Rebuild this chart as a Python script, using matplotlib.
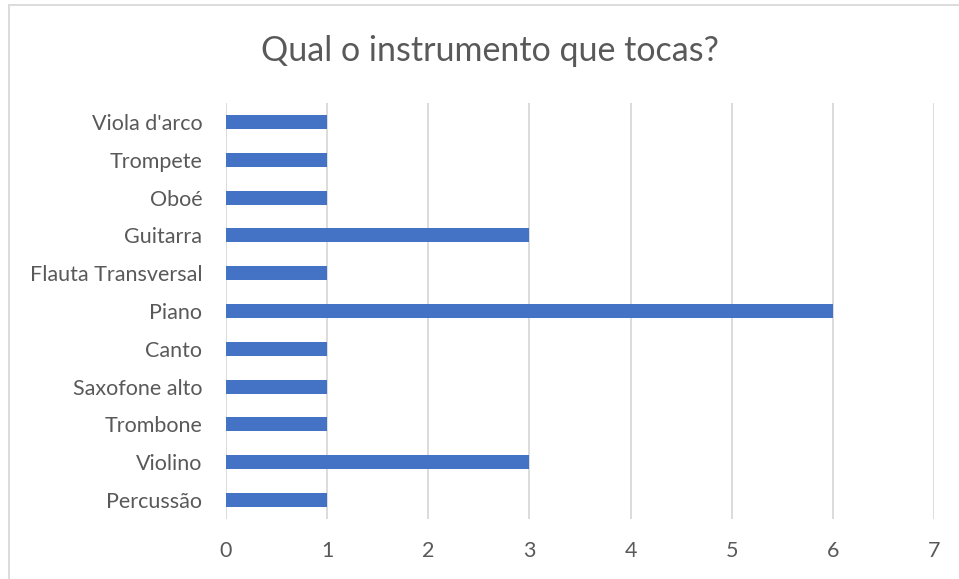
import matplotlib
matplotlib.use("Agg")
import matplotlib.pyplot as plt
from matplotlib.lines import Line2D

instrumentos = ["Percussão", "Violino", "Trombone", "Saxofone alto", "Canto", "Piano",
                "Flauta Transversal", "Guitarra", "Oboé", "Trompete", "Viola d'arco"]
contagens = [1, 3, 1, 1, 1, 6, 1, 3, 1, 1, 1]
x_ticks = [0, 1, 2, 3, 4, 5, 6, 7]
titulo = "Qual o instrumento que tocas?"

W, H = 959, 579
fig = plt.figure(figsize=(W / 100, H / 100), dpi=100)
plt.rcParams['font.family'] = ['Lato', 'DejaVu Sans']

# plot area in pixel coordinates
x0, x1 = 226, 934
y_top, y_bot = 103, 519
ax = fig.add_axes([x0 / W, 1 - y_bot / H, (x1 - x0) / W, (y_bot - y_top) / H])

ypos = list(range(len(instrumentos)))
ax.barh(ypos, contagens, height=0.37, color="#4472C4", zorder=3)

ax.set_xlim(0, 7)
ax.set_ylim(-0.5, len(instrumentos) - 0.5)
ax.set_xticks(x_ticks)
ax.set_xticklabels([str(t) for t in x_ticks])
ax.set_yticks(ypos)
ax.set_yticklabels(instrumentos)
ax.tick_params(axis="both", length=0, labelsize=15.5, colors="#595959")
ax.tick_params(axis="x", pad=16)
ax.tick_params(axis="y", pad=17)
ax.grid(axis="x", color="#d9d9d9", linewidth=1.3, zorder=0)
for s in ax.spines.values():
    s.set_visible(False)

fig.text(490 / W, 1 - 51 / H, titulo, ha="center", va="center",
         fontsize=24.5, color="#595959")

# chart frame (left and top edges)
fig.add_artist(Line2D([8.5 / W, 8.5 / W], [0, 1 - 4.5 / H], color="#d9d9d9",
                      linewidth=1.3, transform=fig.transFigure))
fig.add_artist(Line2D([8.5 / W, 958 / W], [1 - 4.5 / H, 1 - 4.5 / H], color="#d9d9d9",
                      linewidth=1.3, transform=fig.transFigure))

fig.savefig("out.png", dpi=100, facecolor="white")
